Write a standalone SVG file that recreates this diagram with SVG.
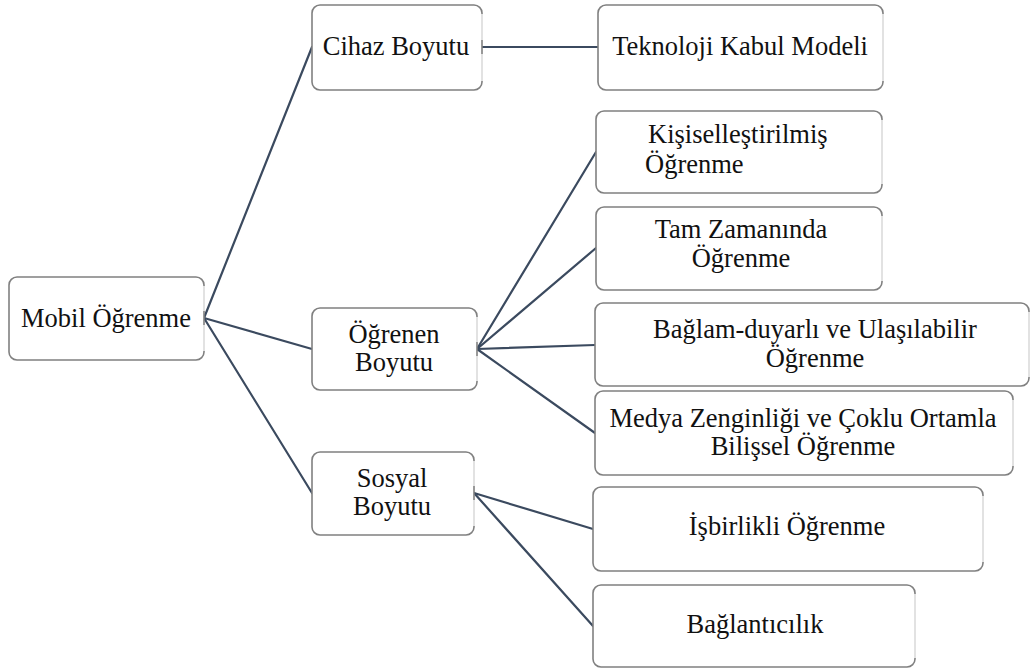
<svg xmlns="http://www.w3.org/2000/svg" width="1030" height="668" viewBox="0 0 1030 668">
  <style>
    .box { fill: #ffffff; stroke: #808080; stroke-width: 1.6; }
    .rim { stroke: #e2e2e2; stroke-width: 2; }
    .edge { fill: none; stroke: #3b4a5f; stroke-width: 2.2; stroke-linecap: round; }
    .mid { text-anchor: middle; }
  </style>
  <rect width="1030" height="668" fill="#ffffff"/>

  <!-- connectors -->
  <g id="connectors">
    <line class="edge" x1="204" y1="318" x2="312" y2="47"/>
    <line class="edge" x1="204" y1="318" x2="312" y2="349"/>
    <line class="edge" x1="204" y1="318" x2="312" y2="493"/>
    <line class="edge" x1="482" y1="47" x2="598" y2="47"/>
    <line class="edge" x1="477" y1="349" x2="596" y2="152"/>
    <line class="edge" x1="477" y1="349" x2="596" y2="248"/>
    <line class="edge" x1="477" y1="349" x2="595" y2="345"/>
    <line class="edge" x1="477" y1="349" x2="595" y2="433"/>
    <line class="edge" x1="474" y1="493" x2="593" y2="529"/>
    <line class="edge" x1="474" y1="493" x2="593" y2="626"/>
  </g>

  <g id="nodes" font-family="Liberation Serif" font-size="26.5" fill="#111111">
    <!-- root -->
    <g id="mobil">
      <rect class="box" x="9" y="277" width="195" height="83" rx="8"/>
      <line class="rim" x1="204" y1="286" x2="204" y2="311"/>
      <line class="rim" x1="204" y1="325" x2="204" y2="351"/>
      <text class="mid" x="106" y="327">Mobil Öğrenme</text>
    </g>

    <!-- level 1 -->
    <g id="cihaz">
      <rect class="box" x="312" y="5" width="170" height="85" rx="8"/>
      <line class="rim" x1="482" y1="14" x2="482" y2="40"/>
      <line class="rim" x1="482" y1="54" x2="482" y2="81"/>
      <text class="mid" x="396" y="55">Cihaz Boyutu</text>
    </g>
    <g id="ogrenen">
      <rect class="box" x="312" y="308" width="165" height="82" rx="8"/>
      <line class="rim" x1="477" y1="317" x2="477" y2="342"/>
      <line class="rim" x1="477" y1="356" x2="477" y2="381"/>
      <text class="mid" x="394" y="343">Öğrenen</text>
      <text class="mid" x="394" y="371">Boyutu</text>
    </g>
    <g id="sosyal">
      <rect class="box" x="312" y="452" width="162" height="83" rx="8"/>
      <line class="rim" x1="474" y1="461" x2="474" y2="486"/>
      <line class="rim" x1="474" y1="500" x2="474" y2="526"/>
      <text class="mid" x="392" y="487">Sosyal</text>
      <text class="mid" x="392" y="515">Boyutu</text>
    </g>

    <!-- level 2 -->
    <g id="teknoloji">
      <rect class="box" x="598" y="5" width="285" height="85" rx="8"/>
      <line class="rim" x1="883" y1="14" x2="883" y2="81"/>
      <text class="mid" x="740" y="55">Teknoloji Kabul Modeli</text>
    </g>
    <g id="kisisel">
      <rect class="box" x="596" y="111" width="286" height="82" rx="8"/>
      <line class="rim" x1="882" y1="120" x2="882" y2="184"/>
      <text x="648" y="143">Kişiselleştirilmiş</text>
      <text x="645" y="173">Öğrenme</text>
    </g>
    <g id="tamzaman">
      <rect class="box" x="596" y="207" width="286" height="83" rx="8"/>
      <line class="rim" x1="882" y1="216" x2="882" y2="281"/>
      <text class="mid" x="741" y="238">Tam Zamanında</text>
      <text class="mid" x="741" y="267">Öğrenme</text>
    </g>
    <g id="baglam">
      <rect class="box" x="595" y="303" width="434" height="83" rx="8"/>
      <line class="rim" x1="1029" y1="312" x2="1029" y2="377"/>
      <text class="mid" x="815" y="338">Bağlam-duyarlı ve Ulaşılabilir</text>
      <text class="mid" x="815" y="367">Öğrenme</text>
    </g>
    <g id="medya">
      <rect class="box" x="595" y="391" width="418" height="84" rx="8"/>
      <line class="rim" x1="1013" y1="400" x2="1013" y2="466"/>
      <text class="mid" x="803" y="427">Medya Zenginliği ve Çoklu Ortamla</text>
      <text class="mid" x="803" y="455">Bilişsel Öğrenme</text>
    </g>
    <g id="isbirlikli">
      <rect class="box" x="593" y="487" width="390" height="84" rx="8"/>
      <line class="rim" x1="983" y1="496" x2="983" y2="562"/>
      <text class="mid" x="787" y="535">İşbirlikli Öğrenme</text>
    </g>
    <g id="baglanticilik">
      <rect class="box" x="593" y="585" width="322" height="82" rx="8"/>
      <line class="rim" x1="915" y1="594" x2="915" y2="658"/>
      <text class="mid" x="755" y="633">Bağlantıcılık</text>
    </g>
  </g>
</svg>
